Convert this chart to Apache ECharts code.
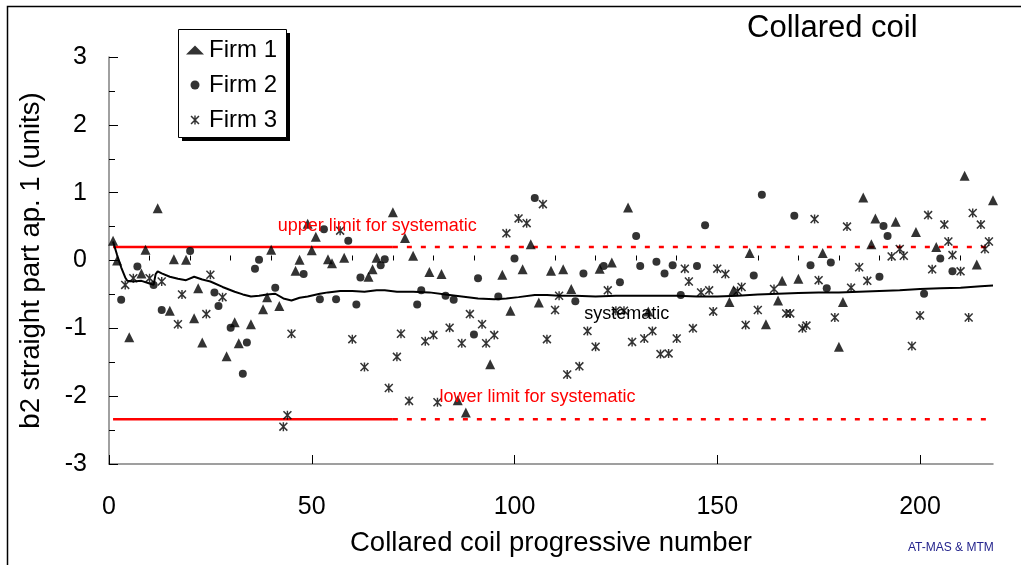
<!DOCTYPE html>
<html>
<head>
<meta charset="utf-8">
<script src="https://cdn.jsdelivr.net/npm/echarts@6/dist/echarts.min.js"></script>
<style>
  html, body { margin: 0; padding: 0; background: #fff; }
  #chart { width: 1021px; height: 565px; }
</style>
</head>
<body>
<div id="chart"></div>
<script>
// b2 (straight part, aperture 1) per collared coil, by manufacturer: [coil number, units]
const firm1 = [
  [1,0.29],[2,0.0],[5,-1.13],[8,-0.19],[9,0.16],[12,0.77],[15,-0.74],[16,0.02],[19,0.01],
  [21,-0.85],[22,-0.41],[23,-1.21],[29,-1.41],[31,-0.91],[32,-1.22],[35,-0.94],[38,-0.72],
  [39,-0.54],[40,0.16],[42,-0.67],[46,-0.15],[47,0.01],[49,0.54],[50,0.15],[51,0.35],[54,0.02],
  [55,-0.04],[58,0.04],[64,-0.24],[65,-0.13],[66,0.04],[70,0.71],[73,0.33],[75,0.07],[79,-0.17],
  [82,-0.2],[86,-2.06],[88,-2.24],[94,-1.53],[97,-0.21],[99,-0.74],[102,-0.13],[104,0.24],
  [106,-0.62],[109,-0.15],[112,-0.13],[114,-0.42],[121,-0.12],[124,-0.03],[128,0.78],[133,-0.75],
  [153,-0.61],[154,-0.44],[158,0.11],[162,-0.94],[165,-0.59],[166,-0.3],[170,-0.27],[176,0.11],
  [180,-1.27],[181,-0.61],[186,0.93],[188,0.24],[189,0.62],[194,0.57],[199,0.42],[204,0.2],
  [211,1.25],[214,-0.06],[218,0.89]
];
const firm2 = [
  [3,-0.58],[7,-0.09],[11,-0.36],[13,-0.73],[20,0.14],[26,-0.47],[27,-0.67],[30,-0.99],
  [33,-1.67],[34,-1.21],[36,-0.12],[37,0.01],[41,-0.4],[48,-0.2],[52,-0.57],[53,0.46],
  [56,-0.57],[59,0.29],[61,-0.65],[62,-0.25],[67,-0.07],[68,0.02],[76,-0.65],[77,-0.44],
  [83,-0.52],[85,-0.58],[90,-1.09],[91,-0.26],[96,-0.53],[100,0.03],[105,0.92],[115,-0.6],
  [117,-0.19],[122,-0.08],[126,-0.32],[130,0.36],[131,-0.08],[135,-0.02],[137,-0.19],
  [139,-0.07],[141,-0.51],[145,-0.08],[147,0.52],[159,-0.22],[161,0.97],[169,0.66],
  [173,-0.07],[177,-0.41],[178,-0.03],[190,-0.24],[191,0.51],[192,0.36],[201,-0.49],
  [205,0.03],[208,-0.16]
];
const firm3 = [
  [4,-0.36],[6,-0.26],[10,-0.26],[13,-0.31],[17,-0.94],[18,-0.5],[24,-0.79],[25,-0.21],
  [28,-0.54],[43,-2.45],[44,-2.28],[45,-1.08],[57,0.44],[60,-1.16],[63,-1.57],[69,-1.88],
  [71,-1.42],[72,-1.08],[74,-2.07],[78,-1.19],[80,-1.1],[81,-2.09],[84,-0.99],[87,-1.22],
  [89,-0.79],[92,-0.94],[93,-1.22],[95,-1.1],[98,0.4],[101,0.62],[103,0.55],[107,0.83],
  [108,-1.16],[110,-0.73],[111,-0.52],[113,-1.68],[116,-1.56],[118,-1.04],[120,-1.27],
  [123,-0.44],[125,-0.74],[127,-0.74],[129,-1.2],[132,-1.15],[134,-1.04],[136,-1.38],
  [138,-1.37],[140,-1.15],[142,-0.12],[143,-0.31],[144,-1.0],[146,-0.47],[148,-0.44],
  [149,-0.75],[150,-0.12],[152,-0.2],[155,-0.45],[156,-0.39],[157,-0.95],[160,-0.73],
  [164,-0.42],[167,-0.78],[168,-0.78],[171,-1.0],[172,-0.96],[174,0.61],[175,-0.29],
  [179,-0.84],[182,0.5],[183,-0.4],[185,-0.1],[187,-0.3],[193,0.06],[195,0.17],[196,0.07],
  [198,-1.26],[200,-0.81],[202,0.67],[203,-0.13],[206,0.53],[207,0.28],[208,0.08],
  [210,-0.16],[212,-0.84],[213,0.7],[215,0.53],[216,0.17],[217,0.28]
];
// running systematic b2 over the production sequence
const systematic = [
  [1,0.28],[2,0.08],[3,-0.1],[4,-0.25],[4.5,-0.3],[6,-0.31],[8,-0.3],[10,-0.34],[11,-0.36],
  [11.5,-0.2],[12,-0.16],[13,-0.19],[15,-0.24],[17,-0.27],[19,-0.29],[21,-0.24],[23,-0.28],
  [25,-0.31],[28,-0.39],[31,-0.46],[33,-0.5],[35,-0.53],[37,-0.52],[39,-0.5],[41,-0.49],
  [43,-0.56],[45,-0.59],[47,-0.55],[49,-0.53],[52,-0.49],[54,-0.47],[57,-0.45],[60,-0.45],
  [63,-0.46],[66,-0.44],[68,-0.44],[71,-0.46],[75,-0.46],[79,-0.47],[83,-0.5],[87,-0.53],
  [91,-0.56],[95,-0.57],[98,-0.56],[101,-0.54],[105,-0.51],[108,-0.51],[111,-0.52],
  [115,-0.52],[120,-0.53],[125,-0.52],[130,-0.52],[135,-0.52],[140,-0.52],[145,-0.53],
  [150,-0.53],[155,-0.52],[160,-0.5],[165,-0.49],[170,-0.48],[175,-0.47],[180,-0.47],
  [185,-0.46],[190,-0.45],[195,-0.44],[200,-0.42],[205,-0.41],[210,-0.4],[215,-0.38],[218,-0.37]
];
// limits for the systematic b2: firm range up to coil 70, extrapolated afterwards
const upperLimit = 0.2;
const lowerLimit = -2.34;
const limitFirmRange = [1, 70];
const limitExtended = [70, 218];
const xMajorTicks = [0, 50, 100, 150, 200];
const xMinorTicks = [10, 20, 30, 40, 60, 70, 80, 90, 110, 120, 130, 140, 160, 170, 180, 190, 210];
const seriesNames = ['Firm 1', 'Firm 2', 'Firm 3'];

const FONT = '"Liberation Sans", Arial, Helvetica, sans-serif';
const RED = '#ff0000';
// six-armed asterisk marker (X with vertical bar)
const STAR = 'path://M0,12 L12,0 L100,88 L88,100 Z M88,0 L100,12 L12,100 L0,88 Z M42,0 L58,0 L58,100 L42,100 Z';

function limitSeries(xs, y, dashed) {
  return {
    type: 'line', silent: true, symbol: 'none', z: 1,
    data: xs.map(x => [x, y]),
    lineStyle: { color: RED, width: 2.5, type: dashed ? [5, 9] : 'solid' }
  };
}

const chart = echarts.init(document.getElementById('chart'), null, { renderer: 'canvas' });
chart.setOption({
  animation: false,
  backgroundColor: '#fff',
  textStyle: { fontFamily: FONT },
  title: {
    text: 'Collared coil', left: 747, top: 13, padding: 0,
    textStyle: { fontFamily: FONT, fontSize: 31, fontWeight: 'normal', color: '#000' }
  },
  graphic: [
    // page frame
    { type: 'rect', shape: { x: 7.5, y: 6.5, width: 1100, height: 700 },
      style: { fill: 'none', stroke: '#000', lineWidth: 1.5 }, silent: true, z: -10 },
    // legend box with its drop shadow
    { type: 'rect', shape: { x: 182, y: 33, width: 108, height: 108 },
      style: { fill: '#000' }, silent: true, z: 1 },
    { type: 'rect', shape: { x: 178.5, y: 29.5, width: 108, height: 108 },
      style: { fill: '#fff', stroke: '#000', lineWidth: 1 }, silent: true, z: 2 },
    { type: 'text', x: 908, y: 548,
      style: { text: 'AT-MAS & MTM', fill: '#23238c', font: '12px ' + FONT, textVerticalAlign: 'middle' } }
  ],
  legend: {
    orient: 'vertical', left: 178, top: 29, z: 10,
    padding: [9, 8, 5, 8], itemGap: 11, itemWidth: 18, itemHeight: 9,
    textStyle: { fontFamily: FONT, fontSize: 24, color: '#000', lineHeight: 24 },
    data: [
      { name: seriesNames[0], icon: 'triangle' },
      { name: seriesNames[1], icon: 'circle' },
      { name: seriesNames[2], icon: STAR }
    ]
  },
  grid: { left: 109, right: 28, top: 57, bottom: 101, containLabel: false },
  xAxis: [
    {
      type: 'value', min: 0, max: 218, interval: 50,
      name: 'Collared coil progressive number', nameLocation: 'middle', nameGap: 65,
      nameTextStyle: { fontFamily: FONT, fontSize: 27.5, color: '#000' },
      axisLine: { show: true, onZero: false, lineStyle: { color: '#808080', width: 1.5 } },
      axisTick: { show: true, inside: true, length: 9, customValues: xMajorTicks, lineStyle: { color: '#000', width: 1 } },
      axisLabel: { customValues: xMajorTicks, margin: 31, fontFamily: FONT, fontSize: 25, color: '#000' },
      splitLine: { show: false }
    },
    {
      type: 'value', min: 0, max: 218, interval: 10, position: 'bottom',
      axisLine: { show: false },
      axisTick: { show: true, inside: true, length: 5, customValues: xMinorTicks, lineStyle: { color: '#000', width: 1 } },
      axisLabel: { show: false },
      splitLine: { show: false }
    }
  ],
  yAxis: {
    type: 'value', min: -3, max: 3, interval: 1,
    name: 'b2 straight part ap. 1 (units)', nameLocation: 'middle', nameGap: 64, nameRotate: 90,
    nameTextStyle: { fontFamily: FONT, fontSize: 27.5, color: '#000' },
    axisLine: { show: true, onZero: false, lineStyle: { color: '#808080', width: 1.5 } },
    axisTick: { show: true, inside: true, length: 9, lineStyle: { color: '#000', width: 1 } },
    minorTick: { show: true, splitNumber: 2, length: 6, lineStyle: { color: '#000', width: 1 } },
    axisLabel: { margin: 22, fontFamily: FONT, fontSize: 25, color: '#000' },
    splitLine: { show: false },
    minorSplitLine: { show: false }
  },
  series: [
    Object.assign(limitSeries(limitFirmRange, upperLimit, false), {
      markPoint: {
        symbol: 'circle', symbolSize: 0, silent: true,
        label: { show: true, position: 'right', distance: 0, formatter: 'upper limit for systematic',
                 color: RED, fontFamily: FONT, fontSize: 18 },
        data: [{ coord: [41.6, 0.51] }]
      }
    }),
    limitSeries(limitExtended, upperLimit, true),
    Object.assign(limitSeries(limitFirmRange, lowerLimit, false), {
      markPoint: {
        symbol: 'circle', symbolSize: 0, silent: true,
        label: { show: true, position: 'right', distance: 0, formatter: 'lower limit for systematic',
                 color: RED, fontFamily: FONT, fontSize: 18 },
        data: [{ coord: [81.5, -2.01] }]
      }
    }),
    limitSeries(limitExtended, lowerLimit, true),
    {
      name: seriesNames[0], type: 'scatter', data: firm1, z: 3,
      symbol: 'triangle', symbolSize: 10, itemStyle: { color: '#000' }
    },
    {
      name: seriesNames[1], type: 'scatter', data: firm2, z: 3,
      symbol: 'circle', symbolSize: 8, itemStyle: { color: '#000' }
    },
    {
      name: seriesNames[2], type: 'scatter', data: firm3, z: 3,
      symbol: STAR, symbolSize: 9, itemStyle: { color: '#000' }
    },
    {
      name: 'systematic', type: 'line', data: systematic, symbol: 'none', z: 4, silent: true,
      lineStyle: { color: '#000', width: 2 },
      markPoint: {
        symbol: 'circle', symbolSize: 0, silent: true,
        label: { show: true, position: 'right', distance: 0, formatter: 'systematic',
                 color: '#000', fontFamily: FONT, fontSize: 18 },
        data: [{ coord: [117.2, -0.79] }]
      }
    }
  ]
});
</script>
</body>
</html>
